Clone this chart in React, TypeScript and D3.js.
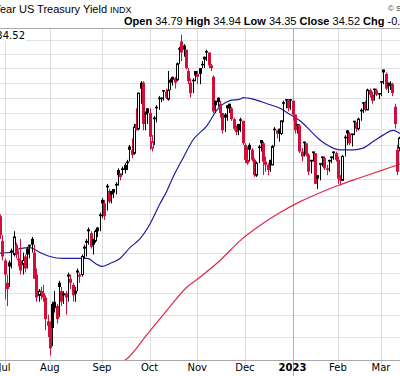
import React from "react";
import * as d3 from "d3";

const W = 400;
const H = 376;

const monthIdx = [0, 20, 43, 64, 85, 106, 127, 147, 166];
const monthLabels = ["Jul", "Aug", "Sep", "Oct", "Nov", "Dec", "2023", "Feb", "Mar"];
const gridValues = [26, 27, 28, 29, 30, 31, 32, 33, 34, 35, 36, 37, 38, 39, 40, 41, 42, 43];

const startIdx = -2;
const opens = [
  31.9, 30.6, 29.6, 28.5, 29.5, 30.1, 29.9, 30.4, 29.7, 29.6,
  29.4, 29.8, 30.2, 30.4, 30.7, 30.0, 28.9, 27.9, 28.1, 28.0,
  27.8, 26.7, 26.6, 27.5, 27.6, 27.4, 28.5, 28.1, 28.0, 28.0,
  28.9, 28.7, 28.4, 28.0, 29.1, 28.9, 28.9, 30.3, 30.6, 31.2,
  31.0, 30.7, 30.6, 31.3, 32.0, 32.8, 32.6, 33.6, 33.3, 33.3,
  33.4, 33.7, 34.5, 34.3, 34.6, 34.8, 35.0, 35.9, 35.7, 35.5,
  37.3, 37.0, 40.0, 40.0, 38.0, 38.3, 38.0, 35.8, 37.7, 38.4,
  39.0, 39.0, 39.5, 39.4, 38.9, 40.2, 40.4, 40.3, 40.2, 42.4,
  42.9, 42.6, 42.3, 40.8, 40.0, 40.2, 40.8, 40.6, 41.0, 41.3,
  41.8, 42.2, 42.1, 41.2, 40.4, 38.8, 39.0, 38.6, 38.0, 37.9,
  38.5, 38.6, 38.3, 37.6, 37.0, 37.3, 37.6, 37.5, 36.0, 35.1,
  36.0, 35.7, 35.1, 34.2, 35.9, 36.3, 36.1, 35.0, 34.8, 35.1,
  34.8, 37.0, 36.9, 37.0, 36.7, 38.7, 38.9, 38.8, 38.9, 38.8,
  37.9, 37.3, 37.2, 35.6, 36.2, 36.1, 35.4, 35.1, 35.6, 35.5,
  34.2, 34.9, 35.3, 35.2, 34.6, 35.1, 35.3, 35.6, 35.5, 35.1,
  34.0, 33.9, 36.5, 36.9, 36.7, 36.7, 37.5, 37.4, 37.0, 38.2,
  38.7, 38.6, 38.2, 39.5, 39.2, 39.6, 39.5, 39.3, 40.1, 40.9,
  40.6, 40.0, 39.8, 39.9, 38.4, 35.7, 35.8, 34.79,
];
const highs = [
  32.0, 30.9, 29.7, 28.9, 29.6, 30.2, 31.1, 30.5, 30.1, 30.7,
  30.0, 29.9, 30.3, 30.4, 30.8, 30.4, 29.2, 28.2, 28.3, 28.4,
  27.9, 27.0, 26.7, 27.6, 28.1, 27.5, 28.6, 28.3, 28.1, 28.1,
  29.0, 28.9, 28.5, 28.3, 29.2, 29.0, 29.9, 30.4, 30.7, 31.3,
  31.1, 30.7, 31.2, 31.3, 32.1, 32.9, 32.8, 33.7, 33.4, 33.3,
  33.4, 33.8, 34.6, 34.3, 34.7, 34.9, 35.1, 36.0, 36.4, 37.3,
  38.3, 39.3, 40.1, 40.1, 38.1, 38.3, 38.3, 36.6, 37.8, 38.5,
  39.1, 39.0, 39.5, 39.6, 40.8, 40.3, 40.4, 40.4, 41.4, 42.5,
  43.4, 42.7, 42.3, 41.0, 40.3, 40.3, 40.8, 40.8, 41.0, 41.5,
  41.8, 42.3, 42.1, 41.3, 40.5, 38.8, 39.0, 38.8, 38.0, 38.0,
  38.5, 38.6, 38.4, 37.7, 37.2, 37.3, 37.7, 37.5, 36.1, 35.9,
  36.1, 35.8, 35.2, 35.0, 36.0, 36.3, 36.2, 35.3, 34.9, 35.1,
  36.0, 37.1, 36.9, 37.0, 37.5, 38.8, 38.9, 38.9, 38.9, 38.8,
  37.9, 37.3, 37.3, 35.8, 36.2, 36.1, 35.5, 35.1, 35.6, 35.5,
  34.2, 34.9, 35.3, 35.3, 34.8, 35.1, 35.3, 35.6, 35.6, 35.3,
  34.2, 35.4, 36.6, 36.9, 36.8, 36.7, 37.5, 37.4, 37.7, 38.3,
  38.7, 38.8, 39.6, 39.6, 39.4, 39.6, 39.6, 39.3, 40.1, 40.9,
  40.7, 40.0, 40.1, 40.0, 38.6, 36.0, 36.5, 34.94,
];
const lows = [
  30.7, 29.6, 27.7, 27.4, 28.3, 29.2, 29.8, 29.7, 29.3, 28.9,
  28.9, 29.0, 29.2, 29.7, 30.0, 28.7, 27.6, 27.6, 27.7, 27.6,
  26.3, 26.0, 25.2, 25.6, 27.1, 26.6, 26.9, 27.4, 27.5, 27.0,
  27.6, 28.2, 27.6, 27.6, 28.1, 28.5, 28.8, 29.7, 29.8, 30.4,
  30.2, 29.9, 30.5, 30.8, 31.1, 31.8, 31.7, 32.2, 32.6, 32.6,
  32.9, 33.1, 33.6, 33.9, 34.2, 34.3, 34.5, 35.0, 35.2, 35.4,
  36.9, 36.9, 38.6, 36.9, 36.9, 37.3, 35.7, 35.6, 36.0, 37.4,
  38.2, 38.7, 38.8, 38.9, 38.8, 39.5, 39.8, 39.6, 40.1, 41.3,
  41.5, 41.8, 40.9, 39.9, 39.0, 39.3, 40.1, 39.9, 39.9, 41.0,
  41.0, 41.5, 41.0, 40.8, 38.0, 38.0, 38.4, 37.7, 36.7, 36.8,
  37.5, 38.0, 37.5, 36.9, 36.6, 36.6, 36.8, 36.0, 34.9, 34.8,
  35.0, 35.0, 34.1, 34.1, 34.9, 35.6, 34.2, 34.4, 34.2, 34.4,
  34.8, 35.9, 36.4, 36.2, 36.6, 37.4, 38.3, 38.1, 38.2, 37.5,
  36.7, 36.7, 35.5, 35.0, 35.3, 35.3, 34.2, 34.3, 35.0, 33.7,
  33.4, 33.9, 34.7, 34.5, 34.2, 34.4, 34.9, 35.1, 35.0, 33.7,
  33.6, 33.9, 35.3, 36.0, 36.0, 35.9, 36.6, 36.8, 36.9, 37.5,
  38.0, 38.1, 38.2, 39.0, 38.6, 38.8, 39.1, 38.9, 39.1, 39.9,
  39.5, 39.3, 39.5, 39.1, 37.0, 34.2, 35.6, 34.35,
];
const closes = [
  30.9, 29.8, 28.9, 28.2, 29.3, 30.0, 30.8, 29.9, 29.6, 29.1,
  29.6, 29.2, 29.9, 30.3, 30.4, 28.7, 27.8, 28.1, 28.0, 27.8,
  26.8, 26.5, 25.5, 26.4, 27.3, 26.8, 28.3, 27.6, 27.9, 27.8,
  28.8, 28.5, 27.9, 28.1, 29.0, 28.8, 29.8, 30.2, 30.5, 31.1,
  30.3, 30.4, 31.1, 31.1, 31.9, 32.6, 31.9, 33.5, 32.7, 33.1,
  33.2, 33.6, 34.2, 34.1, 34.5, 34.5, 34.9, 35.7, 35.4, 37.1,
  36.9, 39.3, 39.6, 37.3, 37.9, 38.0, 36.5, 36.2, 37.6, 38.3,
  38.9, 38.9, 39.4, 39.0, 39.5, 40.0, 40.2, 40.0, 41.3, 42.3,
  42.1, 42.3, 41.0, 40.1, 39.3, 40.1, 40.5, 40.4, 40.6, 41.2,
  41.6, 42.1, 41.2, 41.0, 38.1, 38.5, 38.7, 38.0, 36.9, 37.7,
  38.3, 38.3, 37.6, 37.0, 36.8, 36.9, 37.5, 36.1, 35.1, 34.9,
  35.7, 35.1, 34.2, 34.9, 35.8, 36.1, 35.0, 34.8, 34.5, 34.8,
  35.9, 36.9, 36.7, 36.7, 37.5, 38.6, 38.8, 38.3, 38.8, 37.9,
  36.9, 37.2, 35.6, 35.3, 36.1, 35.4, 34.4, 35.0, 35.5, 33.7,
  34.0, 34.8, 35.2, 34.6, 34.5, 35.0, 35.2, 35.5, 35.1, 34.0,
  33.9, 35.3, 36.4, 36.7, 36.1, 36.6, 37.4, 37.0, 37.6, 38.1,
  38.6, 38.2, 39.5, 39.2, 38.8, 39.5, 39.2, 39.2, 40.0, 40.7,
  39.6, 39.8, 39.9, 39.3, 37.3, 34.4, 36.4, 34.52,
];

const ma50Idx = [-2, 2.4, 6.8, 11.2, 15.7, 20, 25.8, 29, 33.3, 36.4, 40.8, 43, 46.5, 50.9, 55.3, 59.7, 64.2, 68.6, 71.6, 73.9, 78.7, 83.1, 89.3, 93.7, 99.4, 103.8, 105.2, 109.6, 115.7, 121.5, 125.9, 130.3, 134.7, 139.1, 143.5, 147.9, 153.7, 158.1, 162.5, 166.9, 171.3, 174.4];
const ma50Val = [29.97, 30.0, 30.2, 30.25, 30.0, 29.8, 29.7, 29.7, 29.7, 29.7, 29.4, 29.3, 29.45, 29.7, 30.25, 30.7, 31.5, 32.6, 33.3, 33.97, 35.2, 36.3, 37.2, 38.2, 38.8, 38.9, 39.0, 38.9, 38.6, 38.3, 37.9, 37.5, 36.9, 36.3, 35.9, 35.7, 35.7, 35.8, 36.2, 36.6, 36.9, 36.7];

const ma200Idx = [50, 54.5, 62.8, 71.6, 80.5, 85.3, 95, 103.8, 112.6, 121.5, 130.3, 139.1, 147.9, 156.7, 165.6, 174.4];
const ma200Val = [24.8, 25.1, 26.1, 27.2, 28.3, 28.7, 29.6, 30.6, 31.4, 32.1, 32.7, 33.2, 33.65, 34.05, 34.45, 34.85];

const UP = "#000000";
const DOWN = "#d0103a";

export default function App() {
  const x = d3.scaleLinear().domain([monthIdx[0], monthIdx[monthIdx.length - 1]]).range([4.5, 381]);
  const y = d3.scaleLog().domain([26, 43]).range([337, 40]);
  const plotTop = 28;
  const plotBottom = 360;

  const candles = opens.map((o, k) => {
    const i = startIdx + k;
    const c = closes[k];
    const prev = k > 0 ? closes[k - 1] : Infinity;
    const color = c >= prev ? UP : DOWN;
    const hollow = c > o;
    const cx = Math.round(x(i));
    const yh = y(highs[k]);
    const yl = y(lows[k]);
    const yTop = y(Math.max(o, c));
    const yBot = y(Math.min(o, c));
    const bh = Math.max(1, yBot - yTop);
    return (
      <g key={k}>
        {hollow ? (
          <>
            <line x1={cx + 0.5} x2={cx + 0.5} y1={yh} y2={yTop} stroke={color} strokeWidth={1} />
            <line x1={cx + 0.5} x2={cx + 0.5} y1={yTop + bh} y2={yl} stroke={color} strokeWidth={1} />
            <rect x={cx - 0.5} y={yTop} width={2} height={bh} fill="#fff" stroke={color} strokeWidth={1} />
          </>
        ) : (
          <>
            <line x1={cx + 0.5} x2={cx + 0.5} y1={yh} y2={yl} stroke={color} strokeWidth={1} />
            <rect x={cx - 1} y={yTop} width={3} height={bh} fill={color} />
          </>
        )}
      </g>
    );
  });

  const ma50Path = d3
    .line<[number, number]>()
    .x((d) => x(d[0]))
    .y((d) => y(d[1]))
    .curve(d3.curveMonotoneX)(ma50Idx.map((v, k) => [v, ma50Val[k]]));
  const ma200Path = d3
    .line<[number, number]>()
    .x((d) => x(d[0]))
    .y((d) => y(d[1]))
    .curve(d3.curveMonotoneX)(ma200Idx.map((v, k) => [v, ma200Val[k]]));

  return (
    <svg width={W} height={H} style={{ position: "absolute", left: 0, top: 0, background: "#fff" }}>
      <defs>
        <clipPath id="plot">
          <rect x={0} y={plotTop} width={W} height={plotBottom - plotTop} />
        </clipPath>
      </defs>
      <rect x={0} y={0} width={W} height={H} fill="#fff" />
      <text x={107} y={13} textAnchor="end" fontFamily="Liberation Sans, Arial, sans-serif" fontSize={11} fill="#000">
        10-Year US Treasury Yield
      </text>
      <text x={110} y={13} fontFamily="Liberation Sans, Arial, sans-serif" fontSize={9} fill="#000">
        INDX
      </text>
      <text x={388} y={11} fontFamily="Liberation Sans, Arial, sans-serif" fontSize={8} fill="#333">
        © StockCharts.com
      </text>
      <text x={124} y={25} fontFamily="Liberation Sans, Arial, sans-serif" fontSize={11} fill="#000">
        <tspan fontWeight="bold">Open</tspan>
        <tspan> 34.79 </tspan>
        <tspan fontWeight="bold">High</tspan>
        <tspan> 34.94 </tspan>
        <tspan fontWeight="bold"> Low</tspan>
        <tspan> 34.35 </tspan>
        <tspan fontWeight="bold"> Close</tspan>
        <tspan> 34.52 </tspan>
        <tspan fontWeight="bold"> Chg</tspan>
        <tspan> -0.57 (-1.62%)</tspan>
      </text>
      {gridValues.map((v) => (
        <line key={v} x1={0} x2={W} y1={Math.round(y(v)) + 0.5} y2={Math.round(y(v)) + 0.5} stroke="#e2e2e2" strokeWidth={1} />
      ))}
      {monthIdx.map((m, k) => (
        <line
          key={m}
          x1={Math.round(x(m)) + 0.5}
          x2={Math.round(x(m)) + 0.5}
          y1={plotTop}
          y2={monthLabels[k] === "2023" ? H : plotBottom + 4}
          stroke={monthLabels[k] === "2023" ? "#b0b0b0" : "#dddddd"}
          strokeWidth={1}
        />
      ))}
      <line x1={0} x2={W} y1={plotTop + 0.5} y2={plotTop + 0.5} stroke="#a8a8a8" strokeWidth={1} />
      <line x1={0} x2={W} y1={plotBottom + 0.5} y2={plotBottom + 0.5} stroke="#a8a8a8" strokeWidth={1} />
      <g clipPath="url(#plot)">
        <path d={ma200Path || ""} fill="none" stroke="#e0284f" strokeWidth={1.2} />
        <path d={ma50Path || ""} fill="none" stroke="#1f1f9e" strokeWidth={1.2} />
        {candles}
      </g>
      <rect x={0} y={29} width={26} height={12} fill="#fff" />
      <text x={25} y={39} textAnchor="end" fontFamily="DejaVu Sans, sans-serif" fontSize={10} fill="#000">
        34.52
      </text>
      {monthIdx.map((m, k) => (
        <text
          key={"l" + m}
          x={x(m)}
          y={371}
          textAnchor="middle"
          fontFamily="DejaVu Sans, sans-serif"
          fontSize={10}
          fontWeight={monthLabels[k] === "2023" ? "bold" : "normal"}
          fill="#000"
        >
          {monthLabels[k]}
        </text>
      ))}
    </svg>
  );
}
